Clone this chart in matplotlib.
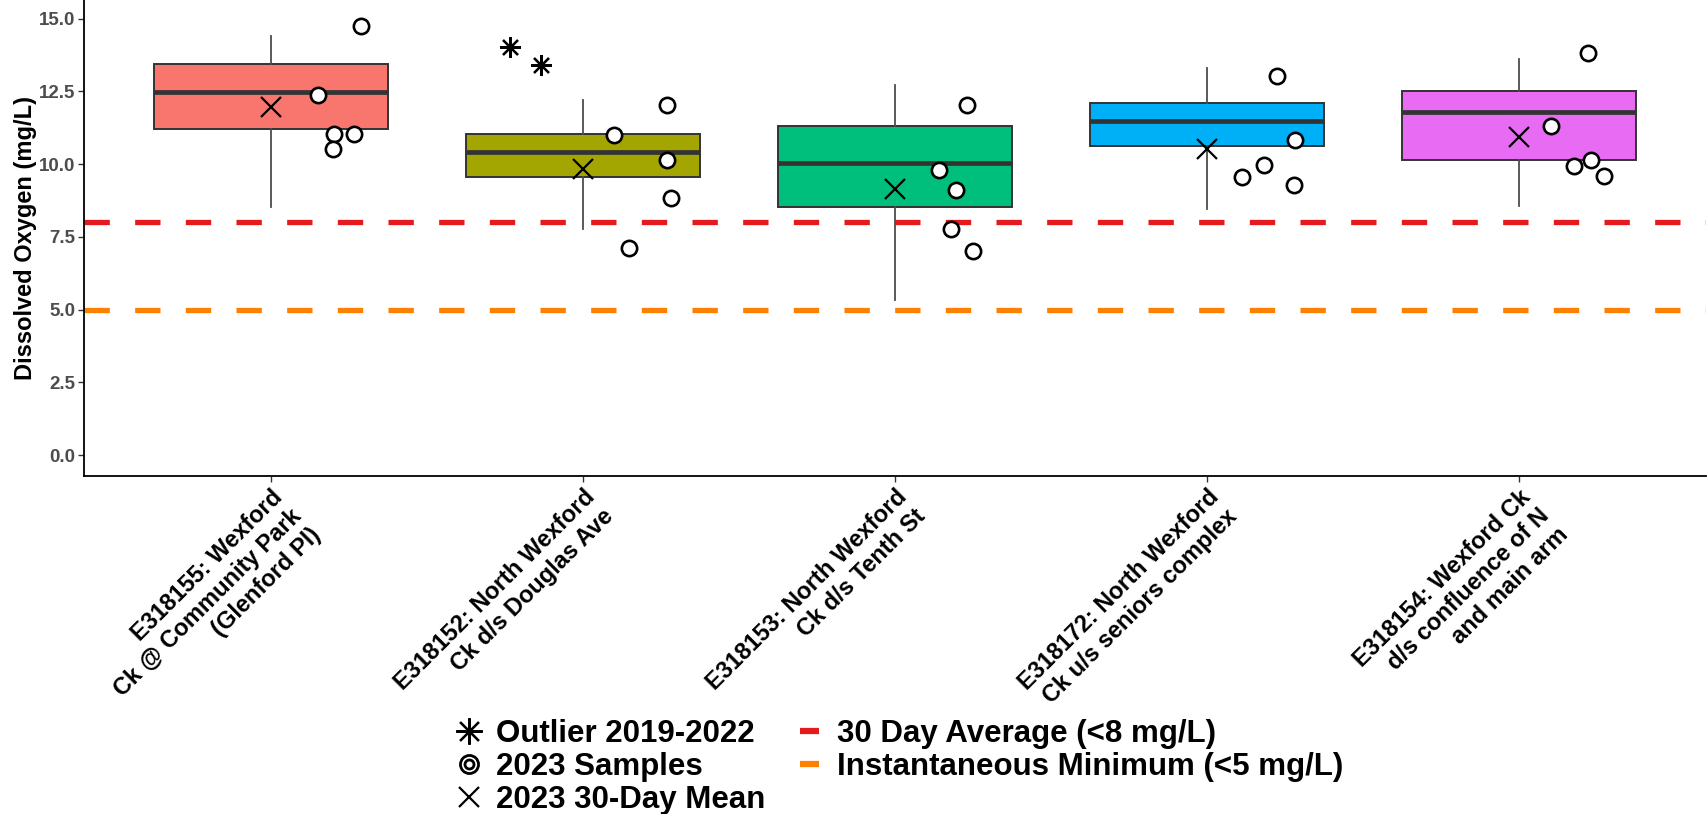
import numpy as np
import matplotlib.pyplot as plt
from matplotlib.lines import Line2D
from matplotlib.legend_handler import HandlerTuple

plt.rcParams['font.family'] = ['Liberation Sans', 'DejaVu Sans']
plt.rcParams['font.weight'] = 'bold'

# Sites (x-axis)
sites = ['E318155: Wexford\nCk @ Community Park\n(Glenford Pl)',
         'E318152: North Wexford\nCk d/s Douglas Ave',
         'E318153: North Wexford\nCk d/s Tenth St',
         'E318172: North Wexford\nCk u/s seniors complex',
         'E318154: Wexford Ck\nd/s confluence of N\nand main arm']
box_colors = ['#F8766D', '#A3A500', '#00BF7D', '#00B0F6', '#E76BF3']

# 2019-2022 boxplot stats (mg/L)
q1 = [11.21, 9.56, 8.53, 10.61, 10.15]
med = [12.47, 10.41, 10.04, 11.49, 11.80]
q3 = [13.45, 11.04, 11.30, 12.11, 12.52]
whislo = [8.52, 7.78, 5.33, 8.44, 8.57]
whishi = [14.41, 12.20, 12.71, 13.31, 13.60]

# outliers 2019-2022
outlier_site = [1, 1]
outlier_vals = [14.03, 13.40]
outlier_jit = [-0.233, -0.134]

# 2023 samples and 30-day means
samples_2023 = [[12.38, 11.05, 10.53, 11.03, 14.75],
                [11.00, 12.02, 10.14, 8.84, 7.11],
                [12.02, 9.79, 9.11, 7.77, 7.03],
                [13.03, 10.84, 9.98, 9.54, 9.27],
                [13.83, 11.32, 10.13, 9.92, 9.60]]
sample_jit = [[0.150, 0.201, 0.198, 0.265, 0.288],
              [0.099, 0.270, 0.268, 0.281, 0.147],
              [0.230, 0.140, 0.197, 0.180, 0.249],
              [0.224, 0.283, 0.184, 0.114, 0.280],
              [0.223, 0.103, 0.230, 0.177, 0.274]]
mean_2023 = [11.95, 9.82, 9.13, 10.53, 10.94]

avg_limit = 8.0
inst_limit = 5.0

fig = plt.figure(figsize=(17.07, 8.14), dpi=100)
ax = fig.add_axes([84 / 1707, 1 - 476 / 814, 1622 / 1707, 476 / 814])

pos = np.arange(1, len(sites) + 1)
stats = [dict(med=med[i], q1=q1[i], q3=q3[i], whislo=whislo[i], whishi=whishi[i], fliers=[])
         for i in range(len(sites))]
bp = ax.bxp(stats, positions=pos, widths=0.75, patch_artist=True, showcaps=False,
            boxprops=dict(edgecolor='#333333', linewidth=1.4),
            whiskerprops=dict(color='#4D4D4D', linewidth=1.3),
            medianprops=dict(color='#333333', linewidth=3.4), zorder=2)
for patch, c in zip(bp['boxes'], box_colors):
    patch.set_facecolor(c)

ax.axhline(avg_limit, color='#E41A1C', lw=3.8, dashes=(4.8, 4.8), zorder=1.5)
ax.axhline(inst_limit, color='#FF7F00', lw=3.8, dashes=(4.8, 4.8), zorder=1.5)

for i in range(len(sites)):
    xs = pos[i] + np.array(sample_jit[i])
    ax.plot(xs, samples_2023[i], 'o', ms=11, mfc='white', mec='black', mew=1.9, zorder=4)
    ax.plot(pos[i], mean_2023[i], 'x', ms=15, mec='black', mew=1.6, zorder=4)
ax.plot(np.array(outlier_site) + 1 + np.array(outlier_jit), outlier_vals,
        marker=(8, 2, 0), ls='none', ms=15, mec='black', mew=1.6, zorder=4)

ax.set_xlim(0.4, 5.6)
ax.set_ylim(-0.72, 15.64)
ax.set_yticks([0, 2.5, 5, 7.5, 10, 12.5, 15])
ax.set_yticklabels(['0.0', '2.5', '5.0', '7.5', '10.0', '12.5', '15.0'])
ax.set_xticks(pos)
ax.set_xticklabels(sites, rotation=45, ha='right', va='top', rotation_mode='anchor',
                   multialignment='right', fontsize=17, fontweight='bold', color='black')
ax.tick_params(axis='y', labelsize=13.5, labelcolor='#4D4D4D', length=4, width=1, color='#333333', pad=2)
ax.tick_params(axis='x', length=4, width=1, color='#333333', pad=3)
for lab in ax.get_yticklabels():
    lab.set_fontweight('bold')
ax.spines['top'].set_visible(False)
ax.spines['right'].set_visible(False)
ax.spines['left'].set_linewidth(1.3)
ax.spines['bottom'].set_linewidth(1.3)
ax.set_ylabel('Dissolved Oxygen (mg/L)', fontsize=17, fontweight='bold', labelpad=1.5)

h_out = Line2D([], [], marker=(8, 2, 0), ls='none', ms=19, mec='black', mew=1.6)
h_s1 = Line2D([], [], marker='o', ls='none', ms=13, mfc='white', mec='black', mew=2.0)
h_s2 = Line2D([], [], marker='o', ls='none', ms=6.5, mfc='white', mec='black', mew=2.0)
h_mean = Line2D([], [], marker='x', ls='none', ms=15, mec='black', mew=1.6)
h_avg = Line2D([], [], color='#E41A1C', lw=4.5, solid_capstyle='butt')
h_inst = Line2D([], [], color='#FF7F00', lw=4.5, solid_capstyle='butt')
fig.legend([h_out, (h_s1, h_s2), h_mean, h_avg, h_inst],
           ['Outlier 2019-2022', '2023 Samples', '2023 30-Day Mean',
            '30 Day Average (<8 mg/L)', 'Instantaneous Minimum (<5 mg/L)'],
           handler_map={tuple: HandlerTuple(ndivide=1)},
           ncol=2, loc='upper left', bbox_to_anchor=(443.6 / 1707, 1 - 703.5 / 814),
           frameon=False, borderpad=0, handlelength=0.6,
           handletextpad=0.58, columnspacing=1.1, labelspacing=0.09,
           prop=dict(weight='bold', size=22.5))

fig.savefig('out.png', dpi=100)
